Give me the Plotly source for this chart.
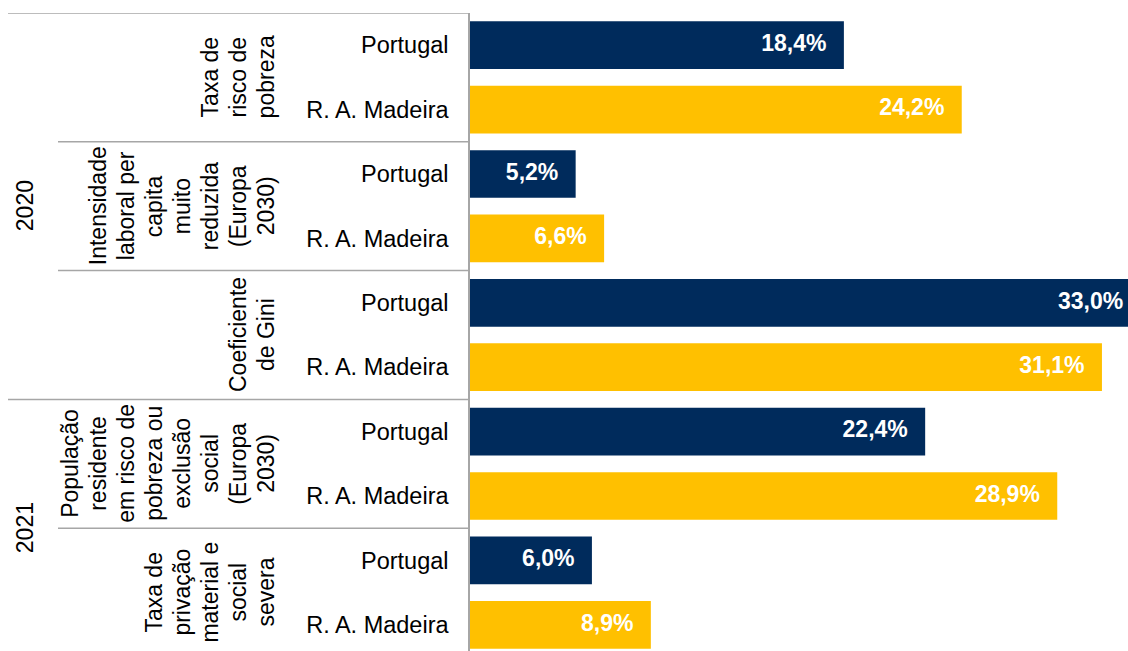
import plotly.graph_objects as go

# ---- data ----
years = ["2020", "2021"]
year_rows = [(0, 5), (6, 9)]
indicators = [
    ["Taxa de", "risco de", "pobreza"],
    ["Intensidade", "laboral per", "capita", "muito", "reduzida", "(Europa", "2030)"],
    ["Coeficiente", "de Gini"],
    ["População", "residente", "em risco de", "pobreza ou", "exclusão", "social", "(Europa", "2030)"],
    ["Taxa de", "privação", "material e", "social", "severa"],
]
regions = ["Portugal", "R. A. Madeira"]
portugal = [18.4, 5.2, 33.0, 22.4, 6.0]
madeira = [24.2, 6.6, 31.1, 28.9, 8.9]

NAVY = "#002B5C"
GOLD = "#FFC000"
FONT = "Liberation Sans, Arial, sans-serif"
GRID = "#A6A6A6"
TXT = "#000000"

W, H = 1128, 651
L, R, T, B = 470, 0, 13, 0
PW = W - L - R
PX_PER_UNIT = 20.32
X_MAX = PW / PX_PER_UNIT
ROW_PX = 64.4
Y_BOTTOM = -0.5 + (H - T - B) / ROW_PX


def px(sx):
    """screen x pixel -> paper fraction"""
    return (sx - L) / PW


def fmt(v):
    return ("%.1f%%" % v).replace(".", ",") + "\u00a0\u00a0\u2009"


n = len(indicators)
y_pt = [2 * i for i in range(n)]
y_md = [2 * i + 1 for i in range(n)]

fig = go.Figure()
for name, vals, ys, col in [(regions[0], portugal, y_pt, NAVY), (regions[1], madeira, y_md, GOLD)]:
    fig.add_trace(go.Bar(
        x=vals, y=ys, orientation="h", name=name, width=0.74,
        marker=dict(color=col, line=dict(width=0)),
        showlegend=False, hoverinfo="skip",
    ))
for vals, ys in [(portugal, y_pt), (madeira, y_md)]:
    fig.add_trace(go.Scatter(
        x=vals, y=ys, mode="text", text=[fmt(v) for v in vals],
        textposition="middle left",
        textfont=dict(family=FONT, size=23, color="white", weight="bold"),
        cliponaxis=True, showlegend=False, hoverinfo="skip",
    ))

shapes = []
for y0 in [-0.5, 5.5]:
    shapes.append(dict(type="line", xref="paper", yref="y", x0=px(8), x1=px(469.5), y0=y0, y1=y0,
                       line=dict(color=GRID, width=1.5)))
for y0 in [1.5, 3.5, 7.5]:
    shapes.append(dict(type="line", xref="paper", yref="y", x0=px(58), x1=px(469.5), y0=y0, y1=y0,
                       line=dict(color=GRID, width=1.5)))

annotations = []
for yr, (a, b) in zip(years, year_rows):
    annotations.append(dict(text=yr, xref="paper", yref="y", x=px(25), y=(a + b) / 2,
                            xanchor="center", yanchor="middle", textangle=-90, showarrow=False,
                            font=dict(family=FONT, size=23, color=TXT)))
LAST_CX = 266
PITCH = 28
for i, lines in enumerate(indicators):
    m = len(lines)
    for k, ln in enumerate(lines):
        cx = LAST_CX - (m - 1 - k) * PITCH
        annotations.append(dict(text=ln, xref="paper", yref="y", x=px(cx), y=2 * i + 0.5,
                                xanchor="center", yanchor="middle", textangle=-90, showarrow=False,
                                font=dict(family=FONT, size=23, color=TXT)))

fig.update_layout(
    width=W, height=H,
    margin=dict(l=L, r=R, t=T, b=B, pad=0),
    paper_bgcolor="white", plot_bgcolor="white",
    barmode="overlay",
    shapes=shapes, annotations=annotations,
    xaxis=dict(range=[0, X_MAX], showgrid=False, zeroline=False, showticklabels=False,
               showline=False, fixedrange=True),
    yaxis=dict(range=[Y_BOTTOM, -0.5], autorange=False, tickmode="array",
               tickvals=list(range(2 * n)), ticktext=regions * n,
               tickfont=dict(family=FONT, size=23.5, color=TXT),
               ticks="", ticklabelstandoff=15,
               showgrid=False, zeroline=False, showline=True, linecolor=GRID, linewidth=1.5),
)

fig.write_html(
    "out.html",
    config={"displayModeBar": False},
    post_script="document.documentElement.style.overflow='hidden';"
                "document.body.style.margin='0';document.body.style.overflow='hidden';",
)
